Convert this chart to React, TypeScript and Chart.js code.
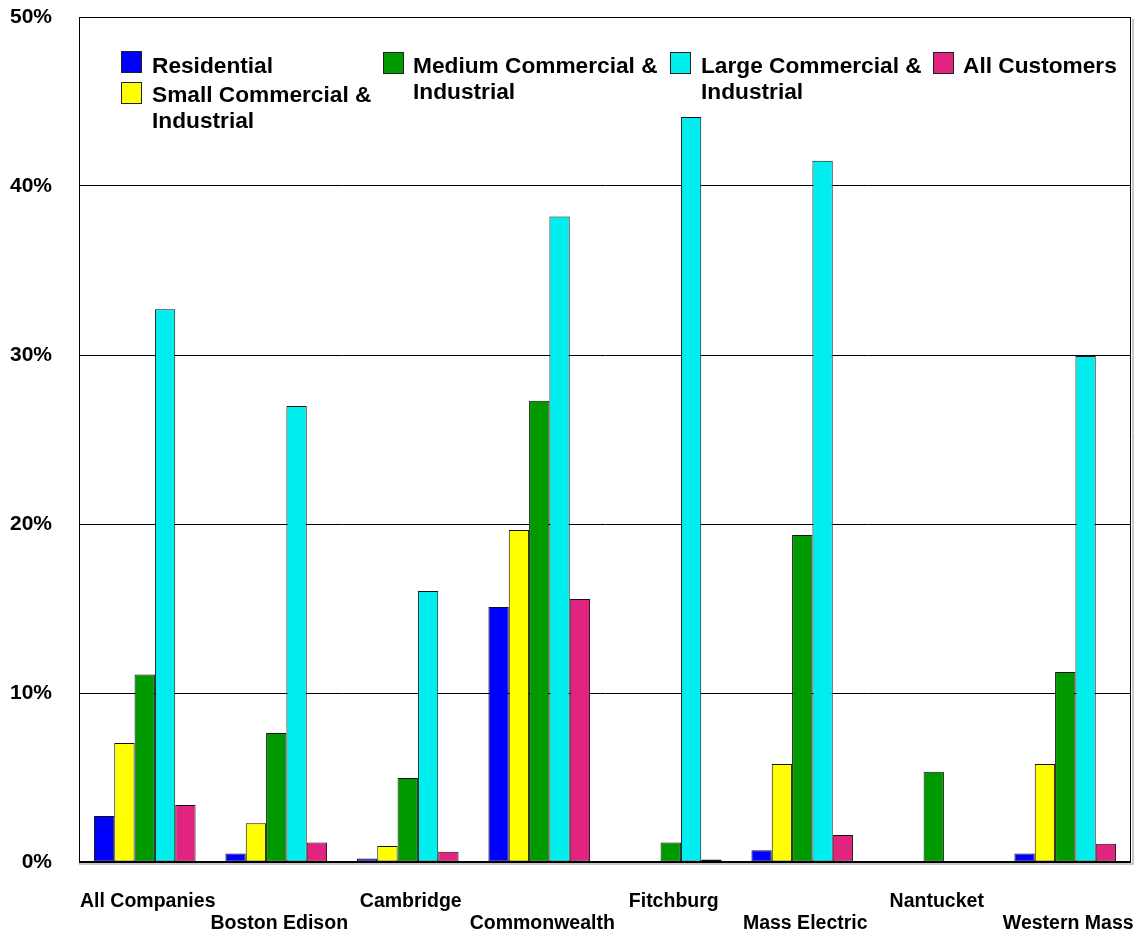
import React, { useEffect, useRef } from "react";
import { Chart, registerables } from "chart.js";

Chart.register(...registerables);

const categories = [
  "All Companies",
  "Boston Edison",
  "Cambridge",
  "Commonwealth",
  "Fitchburg",
  "Mass Electric",
  "Nantucket",
  "Western Mass",
];

const seriesNames = [
  "Residential",
  "Small Commercial & Industrial",
  "Medium Commercial & Industrial",
  "Large Commercial & Industrial",
  "All Customers",
];

const residential = [2.72, 0.5, 0.2, 15.09, 0, 0.7, 0, 0.5];
const smallCI = [7.04, 2.3, 0.95, 19.64, 0, 5.8, 0, 5.8];
const mediumCI = [11.1, 7.63, 4.97, 27.3, 1.15, 19.35, 5.34, 11.24];
const largeCI = [32.7, 26.98, 16.04, 38.2, 44.08, 41.5, 0, 29.94];
const allCustomers = [3.37, 1.15, 0.6, 15.56, 0.15, 1.6, 0, 1.08];

const yTicks = [0, 10, 20, 30, 40, 50];

const seriesValues = [residential, smallCI, mediumCI, largeCI, allCustomers];
const colors = ["#0000FF", "#FFFF00", "#009900", "#00EEEE", "#E0247F"];

const FONT = "'Liberation Sans', Arial, sans-serif";

const frameAndLegend = {
  id: "frameAndLegend",
  afterDraw(chart: any) {
    const { ctx, chartArea } = chart;
    const { left, top, right, bottom } = chartArea;
    ctx.save();
    // shadows
    ctx.fillStyle = "#c8c8c8";
    ctx.fillRect(left, bottom + 1, right - left + 2, 2);
    ctx.fillRect(right + 1, top + 2, 2, bottom - top + 1);
    // frame
    ctx.strokeStyle = "#000";
    ctx.lineWidth = 1;
    ctx.beginPath();
    ctx.moveTo(left + 0.5, bottom);
    ctx.lineTo(left + 0.5, top + 0.5);
    ctx.lineTo(right - 0.5, top + 0.5);
    ctx.lineTo(right - 0.5, bottom);
    ctx.stroke();
    ctx.lineWidth = 2;
    ctx.beginPath();
    ctx.moveTo(left, bottom);
    ctx.lineTo(right, bottom);
    ctx.stroke();

    // legend
    const pos = [
      { bx: 121, by: 51, tx: 152, base: 72.7 },
      { bx: 121, by: 82, tx: 152, base: 101.7 },
      { bx: 383, by: 52, tx: 413, base: 72.5 },
      { bx: 670, by: 52, tx: 701, base: 72.5 },
      { bx: 933, by: 52, tx: 963, base: 72.5 },
    ];
    ctx.font = "bold 22.7px " + FONT;
    ctx.textAlign = "left";
    ctx.textBaseline = "alphabetic";
    chart.data.datasets.forEach((ds: any, i: number) => {
      const p = pos[i];
      ctx.fillStyle = ds.backgroundColor;
      ctx.fillRect(p.bx, p.by, 21, 22);
      ctx.strokeStyle = "#222";
      ctx.lineWidth = 1;
      ctx.strokeRect(p.bx + 0.5, p.by + 0.5, 20, 21);
      const label: string = ds.label;
      const idx = label.indexOf(" & ");
      const lines =
        idx >= 0 ? [label.slice(0, idx + 2), label.slice(idx + 3)] : [label];
      ctx.fillStyle = "#000";
      lines.forEach((ln, k) => {
        ctx.fillText(ln, p.tx, p.base + k * 26.5);
      });
    });
    ctx.restore();
  },
};

export default function App() {
  const ref = useRef<HTMLCanvasElement | null>(null);
  useEffect(() => {
    document.body.style.margin = "0";
    const canvas = ref.current;
    if (!canvas) return;
    const chart = new Chart(canvas, {
      type: "bar",
      data: {
        labels: categories.map((c, i) => (i % 2 === 0 ? [c, ""] : ["", c])),
        datasets: seriesNames.map((name, i) => ({
          label: name,
          data: seriesValues[i],
          backgroundColor: colors[i],
          borderColor: "#111",
          borderWidth: 1,
          borderSkipped: false,
          categoryPercentage: 0.773,
          barPercentage: 1.0,
        })),
      },
      options: {
        responsive: false,
        animation: false,
        layout: { padding: { top: 17, right: 4, left: 0, bottom: 0 } },
        plugins: {
          legend: { display: false },
          tooltip: { enabled: false },
        },
        scales: {
          x: {
            grid: { display: false, drawTicks: false },
            border: { display: false },
            ticks: {
              color: "#000",
              font: { family: FONT, size: 19.5, weight: "bold", lineHeight: 1.12 },
              padding: 29,
              labelOffset: 3,
              maxRotation: 0,
              autoSkip: false,
            },
            afterFit: (s: any) => {
              s.height = 73;
              s.paddingLeft = 0;
              s.paddingRight = 0;
            },
          },
          y: {
            min: 0,
            max: 50,
            afterBuildTicks: (s: any) => {
              s.ticks = yTicks.map((v) => ({ value: v }));
            },
            grid: { color: "#000", lineWidth: 1, drawTicks: false },
            border: { display: true, color: "#000", width: 1 },
            ticks: {
              color: "#000",
              font: { family: FONT, size: 21, weight: "bold" },
              padding: 27,
              callback: (v: any) => v + "%",
            },
            afterFit: (s: any) => {
              s.width = 79;
              s.paddingTop = 0;
              s.paddingBottom = 0;
            },
          },
        },
      },
      plugins: [frameAndLegend],
    });
    return () => chart.destroy();
  }, []);
  return (
    <div style={{ width: 1135, height: 935 }}>
      <canvas ref={ref} width={1135} height={935} />
    </div>
  );
}
